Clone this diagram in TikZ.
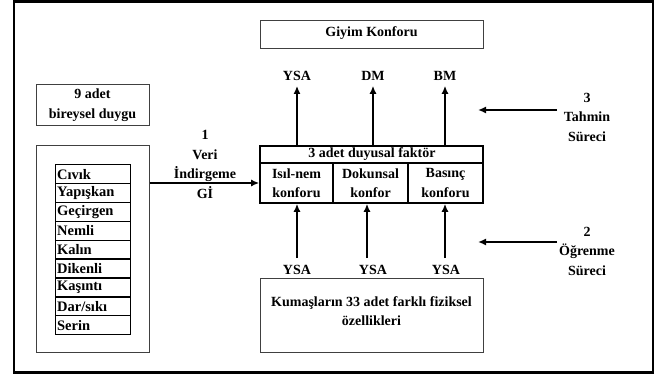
\documentclass[tikz,border=0pt]{standalone}
\usepackage{fontspec}
\setmainfont{Liberation Serif}
\usetikzlibrary{arrows.meta}
\begin{document}
\begin{tikzpicture}[x=1pt,y=-1pt,
  every node/.style={font=\fontsize{14}{19.5}\selectfont\bfseries, inner sep=0pt},
  thinbox/.style={draw=black!75, line width=1pt},
  cellbox/.style={draw, line width=1.3pt},
  facbox/.style={draw, line width=1.6pt},
  arr/.style={line width=1.6pt, -{Latex[length=8pt,width=7pt]}}
]
\useasboundingbox (0,0) rectangle (657,374);
\draw[line width=2.2pt] (14,1.5) rectangle (653,372.5);

% top box
\node[thinbox, minimum width=223pt, minimum height=28pt] (giyim) at (371.5,35) {};
\node (giyimt) at (371.5,33.5) {Giyim Konforu};

% left boxes
\node[thinbox, minimum width=113pt, minimum height=41pt] (dokuz) at (92.5,105.5) {};
\node[align=center] (dokuzt) at (92.5,105) {9 adet\\bireysel duygu};
\node[thinbox, minimum width=113pt, minimum height=207pt] (sens) at (92.5,249.5) {};

\foreach \t [count=\i] in {Cıvık,Yapışkan,Geçirgen,Nemli,Kalın,Dikenli,Kaşıntı,Dar/sıkı,Serin}
  \node[cellbox, anchor=north west, minimum height=18.9pt, text width=72pt,
        inner xsep=1.5pt, align=left, font=\fontsize{14.5}{16}\selectfont\bfseries] (r\i) at (55,{164+(\i-1)*18.9}) {\t};

% factor box
\node[facbox, minimum width=223pt, minimum height=17pt] (hdr) at (371.5,154.5) {};
\node (hdrt) at (372,154) {3 adet duyusal faktör};
\node[facbox, minimum width=73pt, minimum height=40pt, align=center] (c1) at (296.5,183) {Isıl-nem\\konforu};
\node[facbox, minimum width=75pt, minimum height=40pt, align=center] (c2) at (370.5,183) {Dokunsal\\konfor};
\node[facbox, minimum width=75pt, minimum height=40pt, align=center] (c3) at (445.5,183) {Basınç\\konforu};

% bottom box
\node[thinbox, minimum width=223pt, minimum height=74pt] (kum) at (371.5,316) {};
\node[align=center] (kumt) at (371.5,311) {Kumaşların 33 adet farklı fiziksel\\özellikleri};

% labels
\node[align=center] (veri) at (205,164.5) {1\\Veri\\İndirgeme\\Gİ};
\node (yt1) at (297,76) {YSA};
\node (yt2) at (373,76) {DM};
\node (yt3) at (445,76) {BM};
\node (yb1) at (297,270) {YSA};
\node (yb2) at (373,270) {YSA};
\node (yb3) at (446,270) {YSA};
\node[align=center] (tah) at (587,117) {3\\Tahmin\\Süreci};
\node[align=center] (ogr) at (587,251) {2\\Öğrenme\\Süreci};

% arrows
\draw[arr] (sens.east |- c1.west) -- (c1.west);
\draw[arr] (yt1 |- hdr.north) -- ([yshift=-5pt]yt1.south);
\draw[arr] (yt2 |- hdr.north) -- ([yshift=-5pt]yt2.south);
\draw[arr] (yt3 |- hdr.north) -- ([yshift=-5pt]yt3.south);
\draw[arr] ([yshift=7pt]yb1.north) -- (yb1 |- c1.south);
\draw[arr] ([xshift=-6pt,yshift=7pt]yb2.north) -- ([xshift=-6pt]yb2.north |- c2.south);
\draw[arr] ([xshift=-1pt,yshift=7pt]yb3.north) -- ([xshift=-1pt]yb3.north |- c3.south);
\coordinate (s3) at (557,110);
\coordinate (e3) at (478,110);
\coordinate (s2) at (557,242);
\coordinate (e2) at (478,242);
\draw[arr] (s3) -- (e3);
\draw[arr] (s2) -- (e2);
\end{tikzpicture}
\end{document}
